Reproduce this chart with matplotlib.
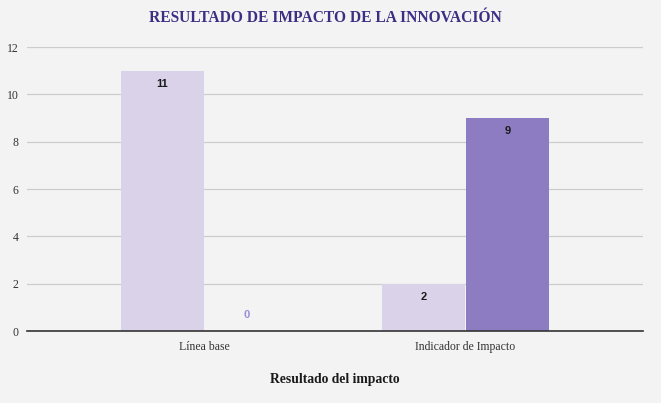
import matplotlib.pyplot as plt
import numpy as np

# datos del gráfico
categorias = ["Línea base", "Indicador de Impacto"]
serie_base = [11, 2]
serie_impacto = [0, 9]
ticks_y = [0, 2, 4, 6, 8, 10, 12]

fondo = "#f3f3f3"
color_claro = "#d9d2e9"
color_oscuro = "#8e7cc3"

fig = plt.figure(figsize=(6.61, 4.03), dpi=100, facecolor=fondo)
ax = fig.add_axes([27 / 661, 1 - 331 / 403, 616 / 661, 284 / 403], facecolor=fondo)

x = np.arange(len(categorias))
ancho = 0.316
desp = 0.161
b1 = ax.bar(x - desp, serie_base, ancho, color=color_claro, zorder=3)
b2 = ax.bar(x + desp, serie_impacto, ancho, color=color_oscuro, zorder=3)

# etiquetas de valor dentro de la barra
for barras in (b1, b2):
    for r in barras:
        v = r.get_height()
        cx = r.get_x() + r.get_width() / 2
        if v > 0:
            ax.text(cx, v - 0.35, f"{v:g}", ha="center", va="top", fontsize=8,
                    fontweight="bold", family="Liberation Sans", color="#1a1a1a", zorder=4)
        else:
            ax.text(cx, 0.45, f"{v:g}", ha="center", va="bottom", fontsize=8,
                    fontweight="bold", family="Liberation Sans", color="#9a8fd6", zorder=4)

ax.set_xlim(-0.68, 1.68)
ax.set_ylim(0, 12)
ax.set_yticks(ticks_y)
ax.set_xticks(x)
ax.set_xticklabels(categorias)
ax.grid(axis="y", color="#cccccc", linewidth=0.9, zorder=0)
ax.tick_params(length=0, labelsize=8.5, labelcolor="#333333")
ax.tick_params(axis="x", pad=7)
ax.tick_params(axis="y", pad=6)
for lbl in ax.get_xticklabels() + ax.get_yticklabels():
    lbl.set_family("Liberation Serif")
for s in ["top", "right", "left"]:
    ax.spines[s].set_visible(False)
ax.spines["bottom"].set_color("#333333")
ax.spines["bottom"].set_linewidth(1.2)
ax.spines["bottom"].set_zorder(5)

fig.text(325 / 661, 1 - 18 / 403, "RESULTADO DE IMPACTO DE LA INNOVACIÓN", ha="center", va="center",
         fontsize=11.2, fontweight="bold", family="Liberation Serif", color="#3b2e83")
fig.text(335 / 661, 1 - 380 / 403, "Resultado del impacto", ha="center", va="center",
         fontsize=9.8, fontweight="bold", family="Liberation Serif", color="#1a1a1a")

fig.savefig("out.png", dpi=100, facecolor=fondo)
